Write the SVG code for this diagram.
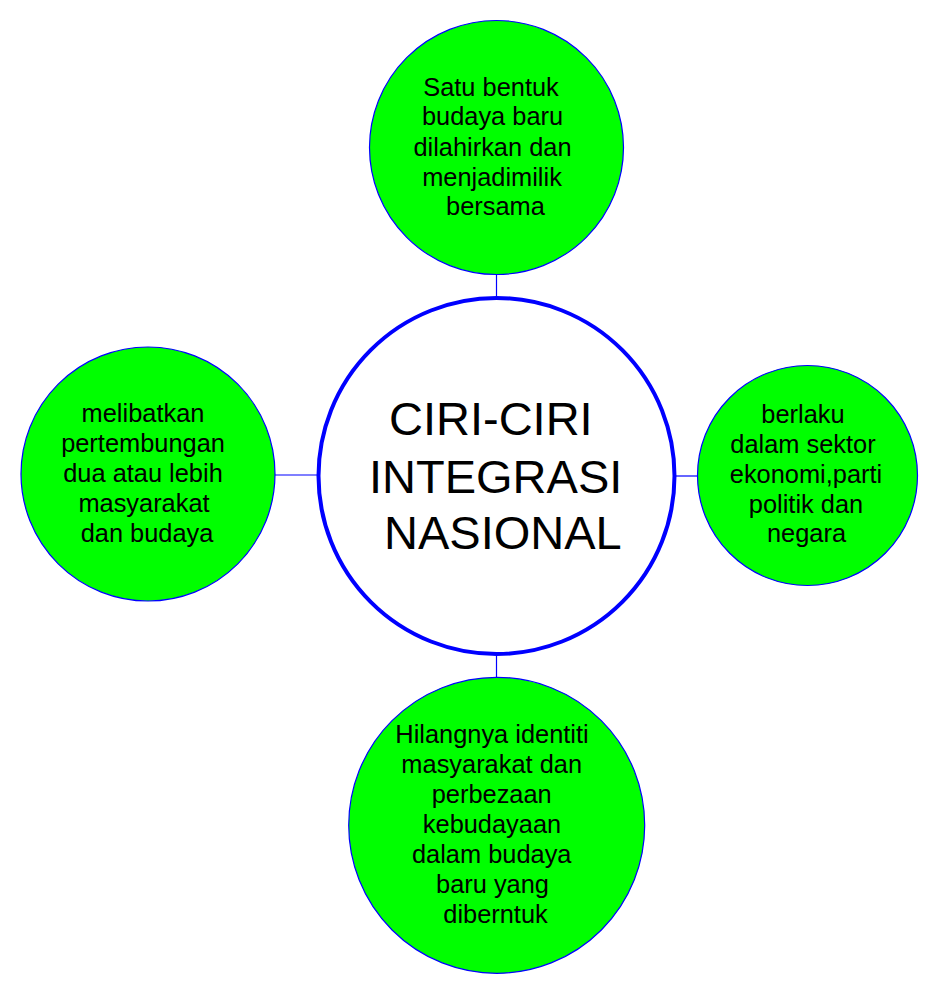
<svg xmlns="http://www.w3.org/2000/svg" width="938" height="994" viewBox="0 0 938 994">
<style>
.sat{fill:#00ff00;stroke:#0000ff;stroke-width:1.2}
.main{fill:#ffffff;stroke:#0000ff;stroke-width:4}
.conn line{stroke:#0000ff;stroke-width:1.2}
text{font-family:"Liberation Sans",Arial,sans-serif;fill:#000000}
.t{font-size:25.4px;text-anchor:middle}
.big{font-size:47px}
</style>
<rect width="938" height="994" fill="#ffffff"/>
<g id="connectors" class="conn">
<line x1="496.5" y1="274" x2="496.5" y2="298"/>
<line x1="275" y1="475" x2="318" y2="475"/>
<line x1="676" y1="476" x2="697" y2="476"/>
<line x1="496.5" y1="654" x2="496.5" y2="677"/>
</g>
<g id="center">
<circle class="main" cx="496.5" cy="476" r="178"/>
<text class="big" x="389" y="435">CIRI-CIRI</text>
<text class="big" x="369" y="493">INTEGRASI</text>
<text class="big" x="384" y="549">NASIONAL</text>
</g>
<g id="top">
<circle class="sat" cx="496.5" cy="147.5" r="127"/>
<text class="t" x="491" y="96">Satu bentuk</text>
<text class="t" x="492.5" y="125">budaya baru</text>
<text class="t" x="492.5" y="156">dilahirkan dan</text>
<text class="t" x="492" y="186">menjadimilik</text>
<text class="t" x="495.5" y="215">bersama</text>
</g>
<g id="left">
<circle class="sat" cx="148" cy="474" r="127"/>
<text class="t" x="143" y="422">melibatkan</text>
<text class="t" x="143" y="452">pertembungan</text>
<text class="t" x="143" y="482">dua atau lebih</text>
<text class="t" x="144" y="512">masyarakat</text>
<text class="t" x="147" y="542">dan budaya</text>
</g>
<g id="right">
<circle class="sat" cx="807.5" cy="475.5" r="110"/>
<text class="t" x="803" y="423">berlaku</text>
<text class="t" x="803" y="453">dalam sektor</text>
<text class="t" x="806" y="483">ekonomi,parti</text>
<text class="t" x="806" y="513">politik dan</text>
<text class="t" x="806.5" y="542">negara</text>
</g>
<g id="bottom">
<circle class="sat" cx="496.7" cy="825.3" r="148"/>
<text class="t" x="492" y="743">Hilangnya identiti</text>
<text class="t" x="491.7" y="773">masyarakat dan</text>
<text class="t" x="491.7" y="803">perbezaan</text>
<text class="t" x="492" y="833">kebudayaan</text>
<text class="t" x="491.7" y="863">dalam budaya</text>
<text class="t" x="492.5" y="893">baru yang</text>
<text class="t" x="495.5" y="923">diberntuk</text>
</g>
</svg>
